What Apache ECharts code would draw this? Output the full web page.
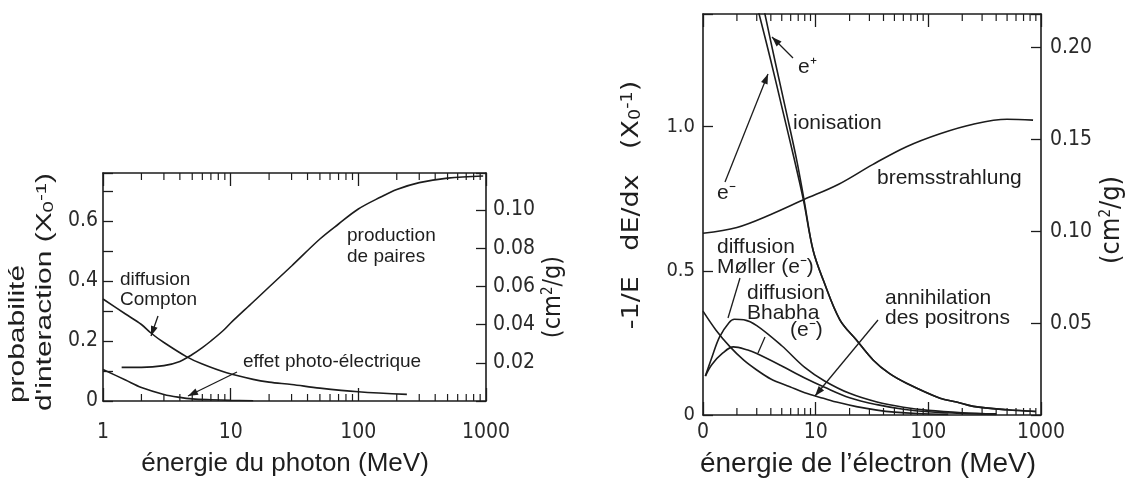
<!DOCTYPE html>
<html><head><meta charset="utf-8">
<script src="https://cdn.jsdelivr.net/npm/echarts@6/dist/echarts.min.js"></script>
<style>html,body{margin:0;padding:0;background:#fff}#c{width:1133px;height:479px}</style>
</head><body><div id="c"></div>
<script>
// ---------------- DATA : left panel (photon in lead, probability per X0) ----------------
const xTicksLabels = [1, 10, 100, 1000];
const photonE_compton = [1, 1.5, 2, 2.4, 3, 4.5, 6, 9.3, 15, 20, 30, 50, 100, 240];
const compton         = [0.34, 0.29, 0.255, 0.225, 0.195, 0.148, 0.123, 0.094, 0.072, 0.063, 0.055, 0.043, 0.031, 0.022];
const photonE_pair    = [1.4, 2, 3, 4, 5, 6, 7, 8.75, 10, 15, 20, 30, 50, 70, 100, 150, 200, 300, 500, 950];
const pair            = [0.112, 0.112, 0.118, 0.132, 0.155, 0.178, 0.2, 0.235, 0.26, 0.33, 0.38, 0.45, 0.54, 0.59, 0.64, 0.68, 0.705, 0.728, 0.743, 0.75];
const photonE_photo   = [1, 1.5, 2, 3, 4, 5, 7, 10, 15];
const photo           = [0.105, 0.07, 0.045, 0.022, 0.012, 0.007, 0.004, 0.002, 0.001];

// ---------------- DATA : right panel (electron/positron in lead, -1/E dE/dx per X0) ----------------
const elecE_ionMinus  = [3.1, 4.0, 5.1, 6.5, 7.8, 9.5, 11.7, 16.4, 23, 32.5, 45, 64, 127, 178, 251, 500, 900];
const ionMinus        = [1.40, 1.228, 1.055, 0.882, 0.744, 0.57, 0.467, 0.33, 0.26, 0.19, 0.144, 0.11, 0.058, 0.045, 0.03, 0.018, 0.012];
const elecE_ionPlus   = [3.5, 4.35, 5.45, 6.8, 7.9, 9.5, 11.7, 16.4, 23, 32.5, 45, 64, 127, 178, 251, 500, 900];
const ionPlus         = [1.40, 1.228, 1.055, 0.882, 0.744, 0.57, 0.467, 0.33, 0.26, 0.19, 0.144, 0.11, 0.058, 0.045, 0.03, 0.018, 0.012];
const elecE_brems     = [1, 2, 4, 7.8, 16, 32, 64, 127, 250, 500, 850];
const brems           = [0.63, 0.65, 0.695, 0.746, 0.80, 0.868, 0.93, 0.975, 1.008, 1.025, 1.022];
const elecE_moller    = [1.05, 1.2, 1.4, 1.7, 1.9, 2.3, 3, 5, 8, 12, 20, 35, 60, 100, 200, 400];
const moller          = [0.135, 0.2, 0.27, 0.32, 0.332, 0.33, 0.31, 0.24, 0.165, 0.118, 0.075, 0.045, 0.027, 0.016, 0.008, 0.004];
const elecE_bhabha    = [1.05, 1.2, 1.5, 1.86, 2.5, 3, 5, 8, 12, 20, 35, 60, 100, 200, 400];
const bhabha          = [0.135, 0.175, 0.215, 0.236, 0.225, 0.213, 0.17, 0.128, 0.096, 0.06, 0.036, 0.02, 0.011, 0.005, 0.002];
const elecE_annih     = [1, 1.3, 1.74, 2.3, 3, 4, 5.9, 8, 11.7, 16, 23, 35, 50, 80, 150];
const annih           = [0.36, 0.295, 0.236, 0.19, 0.156, 0.125, 0.098, 0.077, 0.058, 0.043, 0.029, 0.017, 0.01, 0.005, 0.002];

// axis ranges (right scale = left scale / 6.37 g/cm2, X0 of lead)
const X0 = 6.37;
const leftYMax = 0.76, rightYMax = 1.39;
const minorTickValues = [2,3,4,5,6,7,8,9,20,30,40,50,60,70,80,90,200,300,400,500,600,700,800,900];

// ---------------- helpers ----------------
const INK = '#1c1c1c';
const NUMFONT = "'Liberation Sans Narrow','DejaVu Sans Condensed',sans-serif";
const TXTFONT = "'Liberation Sans',Arial,sans-serif";
const pairs = (xs, ys) => xs.map((x, i) => [x, ys[i]]);

function lineSeries(name, xs, ys, xi, yi) {
  return { name, type: 'line', xAxisIndex: xi, yAxisIndex: yi, data: pairs(xs, ys),
    showSymbol: false, smooth: 0.35, lineStyle: { color: INK, width: 1.6 }, silent: true };
}
function minorTicks(xi, yi, ymax) {
  return { type: 'custom', xAxisIndex: xi, yAxisIndex: yi, silent: true, clip: false,
    data: minorTickValues.map(v => [v, 0]),
    renderItem(params, api) {
      const x = api.value(0);
      const pb = api.coord([x, 0]);
      const pt = api.coord([x, ymax]);
      const st = { stroke: INK, lineWidth: 1.2 };
      return { type: 'group', children: [
        { type: 'line', shape: { x1: pb[0], y1: pb[1], x2: pb[0], y2: pb[1] - 7 }, style: st },
        { type: 'line', shape: { x1: pt[0], y1: pt[1], x2: pt[0], y2: pt[1] + 7 }, style: st }
      ]};
    } };
}
function xAxisLog(gi, pos, showLabels, margin, fmt) {
  return { type: 'log', logBase: 10, gridIndex: gi, position: pos, min: 1, max: 1000,
    axisLine: { onZero: false, lineStyle: { color: INK, width: 1.6 } },
    axisTick: { show: true, inside: true, length: 13, lineStyle: { color: INK, width: 1.3 } },
    axisLabel: { show: showLabels, margin, color: '#2a2a2a', fontSize: 21, fontFamily: NUMFONT,
      formatter: fmt || (v => String(v)) },
    splitLine: { show: false } };
}
function yAxisVal(gi, pos, max, interval, margin, fmt, fs) {
  return { type: 'value', gridIndex: gi, position: pos, min: 0, max, interval,
    axisLine: { show: true, onZero: false, lineStyle: { color: INK, width: 1.6 } },
    axisTick: { show: true, inside: true, length: 10, lineStyle: { color: INK, width: 1.3 } },
    axisLabel: { margin, color: '#2a2a2a', fontSize: fs || 21, fontFamily: NUMFONT, formatter: fmt },
    splitLine: { show: false } };
}
function txt(x, y, text, size, extra) {
  return Object.assign({ type: 'text', x, y, silent: true,
    style: { text, fill: '#1e1e1e', font: size + 'px ' + TXTFONT, align: 'left', verticalAlign: 'middle' } }, extra || {});
}
function arrow(x1, y1, x2, y2, head) {
  const ch = [{ type: 'line', shape: { x1, y1, x2, y2 }, style: { stroke: INK, lineWidth: 1.3 } }];
  if (head) {
    const a = Math.atan2(y2 - y1, x2 - x1), L = 10, W = 3.5;
    const bx = x2 - L * Math.cos(a), by = y2 - L * Math.sin(a);
    ch.push({ type: 'polygon', shape: { points: [[x2, y2],
      [bx + W * Math.sin(a), by - W * Math.cos(a)], [bx - W * Math.sin(a), by + W * Math.cos(a)]] },
      style: { fill: INK } });
  }
  return { type: 'group', silent: true, children: ch };
}
function vtext(x, y, text, font, rich, sx) {
  return { type: 'text', x, y, rotation: Math.PI / 2, scaleX: sx || 1, silent: true,
    style: { text, font, fill: '#1e1e1e', align: 'center', verticalAlign: 'middle', rich: rich || {} } };
}

const chart = echarts.init(document.getElementById('c'), null, { renderer: 'canvas' });
const fmtLeftY = v => { if (v === 0) return '0'; return Math.abs(v * 5 - Math.round(v * 5)) < 1e-6 ? v.toFixed(1) : ''; };
const fmtLeftY2 = v => (v > 0.001 && v < 0.11) ? v.toFixed(2) : '';
const fmtRightY = v => { if (v === 0) return '0'; return (v < 1.05 && Math.abs(v * 2 - Math.round(v * 2)) < 1e-6) ? v.toFixed(1) : ''; };
const fmtRightY2 = v => (v > 0.001 && v < 0.21) ? v.toFixed(2) : '';

const subSup = {
  sub: { font: '15px ' + TXTFONT, verticalAlign: 'bottom', fill: '#1e1e1e' },
  sup: { font: '15px ' + TXTFONT, verticalAlign: 'top', fill: '#1e1e1e' }
};
const subSupN = {
  sub: { font: '15px ' + NUMFONT, verticalAlign: 'bottom', fill: '#1e1e1e' },
  sup: { font: '15px ' + NUMFONT, verticalAlign: 'top', fill: '#1e1e1e' }
};

chart.setOption({
  animation: false,
  backgroundColor: '#fff',
  grid: [
    { left: 103, right: 1133 - 486, top: 173, bottom: 479 - 401 },
    { left: 703, right: 1133 - 1041, top: 14, bottom: 479 - 415 }
  ],
  xAxis: [
    xAxisLog(0, 'bottom', true, 21),
    xAxisLog(0, 'top', false, 0),
    xAxisLog(1, 'bottom', true, 7, v => (v === 1 ? '0' : String(v))),
    xAxisLog(1, 'top', false, 0)
  ],
  yAxis: [
    yAxisVal(0, 'left', leftYMax, 0.1, 5, fmtLeftY, 21),
    yAxisVal(0, 'right', leftYMax / X0, 0.02, 7, fmtLeftY2, 21),
    yAxisVal(1, 'left', rightYMax, 0.5, 8, fmtRightY, 20),
    yAxisVal(1, 'right', rightYMax / X0, 0.05, 9, fmtRightY2, 21)
  ],
  series: [
    lineSeries('compton', photonE_compton, compton, 0, 0),
    lineSeries('pair', photonE_pair, pair, 0, 0),
    lineSeries('photo', photonE_photo, photo, 0, 0),
    minorTicks(0, 0, leftYMax),
    lineSeries('ion e-', elecE_ionMinus, ionMinus, 2, 2),
    lineSeries('ion e+', elecE_ionPlus, ionPlus, 2, 2),
    lineSeries('brems', elecE_brems, brems, 2, 2),
    lineSeries('moller', elecE_moller, moller, 2, 2),
    lineSeries('bhabha', elecE_bhabha, bhabha, 2, 2),
    lineSeries('annihilation', elecE_annih, annih, 2, 2),
    minorTicks(2, 2, rightYMax)
  ],
  graphic: [
    // left panel axis names
    vtext(18, 334, 'probabilité', '22px ' + TXTFONT, null, 1.36),
    vtext(45, 292, "d'interaction (X{sub|0}{sup|-1})", '22px ' + TXTFONT, subSup, 1.36),
    vtext(553, 297, '(cm{sup|2}/g)', '25px ' + NUMFONT, subSupN),
    { type: 'text', x: 285, y: 464, silent: true, style: { text: 'énergie du photon (MeV)', font: '26px ' + TXTFONT, fill: '#1e1e1e', align: 'center', verticalAlign: 'middle' } },
    // left panel annotations
    txt(120, 280, 'diffusion', 19), txt(120, 300, 'Compton', 19),
    arrow(158, 316, 151, 336, true),
    txt(243, 362, 'effet photo-électrique', 19),
    arrow(237, 372, 188, 396, true),
    txt(347, 236, 'production', 19), txt(347, 257, 'de paires', 19),
    // right panel axis names
    vtext(632, 205, '-1/E   dE/dx   (X{sub|0}{sup|-1})', '23px ' + NUMFONT, subSupN, 1.3),
    vtext(1112, 220, '(cm{sup|2}/g)', '27px ' + NUMFONT, subSupN),
    { type: 'text', x: 868, y: 464, silent: true, style: { text: 'énergie de l’électron (MeV)', font: '28px ' + TXTFONT, fill: '#1e1e1e', align: 'center', verticalAlign: 'middle' } },
    // right panel annotations
    txt(798, 67, 'e⁺', 21), arrow(793, 58, 772, 37, true),
    txt(717, 193, 'e⁻', 21), arrow(725, 182, 768, 74, true),
    txt(793, 123, 'ionisation', 21),
    txt(877, 178, 'bremsstrahlung', 21),
    txt(717, 247, 'diffusion', 21), txt(717, 267, 'Møller (e⁻)', 21),
    arrow(740, 278, 728, 318, false),
    txt(747, 293, 'diffusion', 21), txt(747, 313, 'Bhabha', 21), txt(790, 330, '(e⁻)', 21),
    arrow(765, 337, 758, 353, false),
    txt(885, 298, 'annihilation', 21), txt(885, 318, 'des positrons', 21),
    arrow(878, 320, 815, 396, true)
  ]
});
</script></body></html>
